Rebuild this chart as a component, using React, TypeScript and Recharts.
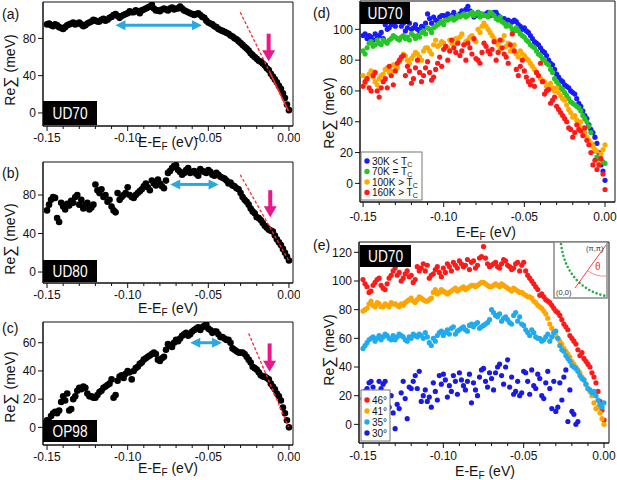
import React from 'react';
import { ScatterChart, Scatter, XAxis, YAxis, ReferenceLine, ReferenceArea } from 'recharts';

// ---------------------------------------------------------------------------
// Data: Re Sigma (meV), on two interleaved energy grids
// ---------------------------------------------------------------------------

const ENERGY = [
  -0.15, -0.1475, -0.145, -0.1425, -0.14, -0.1375, -0.135, -0.1325, -0.13, -0.1275,
  -0.125, -0.1225, -0.12, -0.1175, -0.115, -0.1125, -0.11, -0.1075, -0.105, -0.1025,
  -0.1, -0.0975, -0.095, -0.0925, -0.09, -0.0875, -0.085, -0.0825, -0.08, -0.0775,
  -0.075, -0.0725, -0.07, -0.0675, -0.065, -0.0625, -0.06, -0.0575, -0.055, -0.0525,
  -0.05, -0.0475, -0.045, -0.0425, -0.04, -0.0375, -0.035, -0.0325, -0.03, -0.0275,
  -0.025, -0.0225, -0.02, -0.0175, -0.015, -0.0125, -0.01, -0.0075, -0.005, -0.0025, 0,
];

const ENERGY_MID = [
  -0.14875, -0.14625, -0.14375, -0.14125, -0.13875, -0.13625, -0.13375, -0.13125, -0.12875, -0.12625,
  -0.12375, -0.12125, -0.11875, -0.11625, -0.11375, -0.11125, -0.10875, -0.10625, -0.10375, -0.10125,
  -0.09875, -0.09625, -0.09375, -0.09125, -0.08875, -0.08625, -0.08375, -0.08125, -0.07875, -0.07625,
  -0.07375, -0.07125, -0.06875, -0.06625, -0.06375, -0.06125, -0.05875, -0.05625, -0.05375, -0.05125,
  -0.04875, -0.04625, -0.04375, -0.04125, -0.03875, -0.03625, -0.03375, -0.03125, -0.02875, -0.02625,
  -0.02375, -0.02125, -0.01875, -0.01625, -0.01375, -0.01125, -0.00875, -0.00625, -0.00375, -0.00125,
];

const X_TICKS = [
  -0.15, -0.14, -0.13, -0.12, -0.11, -0.1, -0.09, -0.08, -0.07, -0.06, -0.05, -0.04, -0.03, -0.02, -0.01, 0,
];

// (a) UD70
const UD70_A = [
  95, 94, 95, 92, 90, 94, 96, 95, 97, 93,
  96, 98, 99, 98, 101, 100, 103, 106, 102, 105,
  107, 108, 110, 107, 111, 113, 116, 110, 109, 112,
  110, 113, 112, 114, 110, 108, 106, 106, 105, 102,
  97, 95, 92, 89, 87, 85, 82, 79, 75, 71,
  67, 62, 58, 55, 51, 46, 39, 33, 26, 16, 3,
];
const UD70_A_MID = [
  96, 93, 94, 91, 92, 95, 97, 96, 95, 94,
  97, 100, 98, 100, 99, 102, 105, 104, 104, 106,
  109, 108, 109, 110, 112, 114, 112, 110, 111, 111,
  112, 111, 112, 112, 109, 107, 105, 107, 103, 99,
  96, 93, 90, 88, 86, 83, 80, 77, 73, 69,
  64, 60, 56, 53, 48, 42, 36, 29, 21, 9,
];

// (b) UD80
const UD80_B = [
  64, 75, 77, 52, 68, 71, 74, 78, 70, 66,
  72, 67, 91, 82, 78, 73, 68, 62, 75, 80,
  88, 78, 80, 84, 89, 88, 95, 90, 92, 87,
  103, 108, 111, 104, 103, 108, 104, 102, 107, 104,
  106, 101, 103, 99, 97, 92, 90, 87, 82, 75,
  70, 63, 57, 54, 48, 44, 42, 34, 28, 20, 12,
];
const UD80_B_MID = [
  70, 78, 56, 72, 65, 69, 72, 80, 75, 70,
  65, 70, 85, 86, 80, 75, 64, 82, 78, 82,
  80, 77, 82, 86, 92, 85, 92, 96, 89, 95,
  105, 110, 106, 101, 106, 103, 105, 100, 105, 103,
  104, 100, 101, 98, 95, 93, 89, 86, 78, 73,
  66, 61, 56, 51, 46, 43, 38, 31, 24, 16,
];

// (c) OP98
const OP98_C = [
  5, 8, 11, 12, 22, 24, 13, 22, 28, 29,
  24, 22, 21, 25, 28, 30, 34, 23, 36, 35,
  40, 34, 42, 45, 48, 50, 52, 52, 47, 50,
  59, 57, 62, 63, 66, 65, 68, 70, 69, 72,
  70, 67, 68, 64, 63, 62, 56, 54, 53, 52,
  48, 43, 41, 37, 36, 34, 29, 24, 19, 10, 0,
];
const OP98_C_MID = [
  4, 10, 10, 18, 19, 12, 20, 26, 27, 28,
  22, 21, 23, 26, 29, 31, 21, 33, 37, 38,
  39, 40, 43, 46, 49, 51, 53, 48, 49, 55,
  58, 60, 61, 65, 67, 66, 69, 71, 71, 73,
  69, 68, 66, 64, 62, 60, 55, 53, 53, 50,
  46, 42, 39, 36, 35, 31, 27, 22, 14, 5,
];

// (d) UD70, temperature series
const D_30K = [
  96, 94, 95, 97, 96, 94, 100, 103, 102, 106,
  104, 101, 100, 103, 99, 101, 110, 104, 106, 108,
  109, 110, 109, 108, 110, 111, 115, 111, 109, 110,
  109, 111, 110, 111, 108, 107, 106, 105, 105, 102,
  101, 98, 94, 91, 88, 85, 80, 77, 71, 67,
  64, 62, 59, 55, 50, 44, 38, 33, 26, 12, 2,
];
const D_30K_MID = [
  97, 96, 93, 95, 98, 103, 101, 104, 105, 102,
  99, 104, 101, 100, 102, 104, 107, 108, 105, 109,
  108, 107, 111, 109, 112, 113, 112, 108, 111, 109,
  110, 109, 111, 109, 106, 105, 104, 106, 103, 100,
  99, 96, 92, 90, 86, 83, 78, 74, 69, 66,
  63, 60, 58, 52, 47, 42, 35, 30, 20, 8,
];
const D_70K = [
  86, 88, 92, 90, 91, 93, 91, 94, 95, 93,
  96, 95, 97, 94, 95, 99, 101, 98, 102, 104,
  103, 106, 108, 107, 108, 110, 109, 111, 110, 108,
  109, 108, 110, 107, 108, 104, 103, 100, 101, 97,
  95, 92, 89, 86, 83, 80, 77, 72, 66, 62,
  59, 55, 52, 50, 47, 42, 37, 25, 17, 15, 13,
];
const D_70K_MID = [
  84, 91, 89, 93, 90, 92, 93, 96, 94, 95,
  94, 93, 96, 96, 98, 97, 100, 101, 103, 105,
  106, 107, 106, 109, 109, 108, 110, 109, 111, 110,
  109, 111, 109, 106, 105, 102, 102, 99, 99, 96,
  93, 90, 88, 84, 81, 78, 74, 68, 64, 61,
  57, 53, 51, 49, 44, 40, 33, 21, 16, 14,
];
const D_100K = [
  70, 68, 73, 66, 68, 71, 75, 73, 76, 79,
  84, 80, 81, 85, 82, 86, 88, 84, 93, 90,
  91, 88, 91, 94, 95, 90, 93, 96, 92, 98,
  104, 100, 96, 92, 87, 96, 91, 88, 84, 86,
  83, 80, 76, 72, 68, 66, 64, 62, 62, 57,
  54, 48, 43, 41, 40, 33, 28, 24, 21, 19, 25,
];
const D_100K_MID = [
  65, 71, 69, 64, 70, 74, 72, 77, 75, 81,
  83, 78, 83, 84, 80, 88, 86, 90, 89, 92,
  89, 93, 90, 92, 97, 92, 95, 93, 100, 102,
  102, 98, 94, 90, 93, 89, 86, 90, 82, 84,
  81, 78, 74, 70, 67, 63, 65, 60, 59, 55,
  51, 46, 44, 38, 36, 30, 26, 22, 13, 22,
];
const D_160K = [
  63, 68, 60, 72, 56, 66, 62, 70, 73, 80,
  83, 76, 65, 75, 72, 70, 79, 67, 74, 82,
  87, 80, 93, 85, 83, 90, 91, 84, 81, 78,
  91, 86, 87, 80, 93, 84, 78, 97, 74, 76,
  73, 66, 67, 72, 78, 58, 61, 54, 50, 46,
  42, 36, 30, 38, 34, 36, 25, 12, 9, 16, -4,
];
const D_160K_MID = [
  66, 62, 70, 60, 62, 68, 76, 64, 78, 82,
  70, 73, 68, 80, 66, 75, 72, 69, 78, 76,
  89, 86, 88, 91, 86, 80, 88, 94, 80, 85,
  89, 84, 92, 85, 88, 82, 90, 86, 70, 80,
  69, 64, 63, 70, 66, 60, 52, 56, 48, 44,
  40, 35, 33, 35, 31, 28, 20, 15, 12, 6,
];

// (e) UD70, Fermi-surface angle series
const E_46 = [
  101, 96, 93, 99, 102, 95, 98, 104, 109, 106,
  102, 107, 104, 101, 107, 112, 111, 104, 108, 106,
  109, 112, 107, 111, 114, 110, 115, 113, 109, 116,
  124, 112, 111, 113, 109, 115, 111, 108, 112, 107,
  113, 104, 100, 96, 90, 89, 86, 83, 79, 76,
  70, 66, 60, 56, 48, 46, 42, 36, 29, 16, 3,
];
const E_46_MID = [
  98, 92, 97, 101, 97, 94, 102, 107, 104, 100,
  105, 103, 99, 110, 109, 107, 102, 105, 110, 103,
  106, 110, 113, 109, 112, 111, 108, 114, 111, 117,
  116, 110, 112, 110, 112, 114, 110, 109, 113, 111,
  107, 102, 98, 94, 91, 87, 85, 81, 78, 73,
  68, 62, 58, 52, 50, 44, 40, 33, 23, 10,
];
const E_41 = [
  79, 81, 86, 82, 84, 82, 83, 85, 84, 82,
  83, 86, 88, 85, 89, 87, 86, 88, 94, 92,
  93, 91, 93, 95, 94, 96, 95, 97, 96, 98,
  99, 97, 96, 98, 96, 97, 95, 93, 94, 92,
  91, 89, 88, 85, 82, 79, 74, 67, 62, 58,
  53, 49, 44, 40, 36, 31, 25, 20, 11, 8, 0,
];
const E_41_MID = [
  80, 84, 83, 85, 82, 84, 82, 84, 83, 84,
  85, 87, 86, 87, 88, 86, 87, 92, 91, 94,
  92, 92, 94, 93, 95, 94, 96, 97, 97, 99,
  98, 96, 97, 97, 98, 96, 94, 95, 93, 92,
  90, 89, 86, 83, 81, 77, 70, 64, 60, 56,
  51, 47, 42, 38, 33, 28, 23, 15, 12, 4,
];
const E_35 = [
  53, 57, 60, 58, 62, 61, 62, 59, 59, 63,
  61, 58, 60, 62, 63, 60, 61, 55, 58, 64,
  62, 66, 67, 63, 66, 68, 65, 70, 70, 67,
  69, 71, 80, 76, 77, 74, 73, 70, 78, 75,
  69, 64, 66, 61, 60, 59, 63, 61, 65, 55,
  51, 46, 41, 39, 34, 31, 25, 22, 20, 14, 15,
];
const E_35_MID = [
  55, 59, 61, 60, 59, 63, 60, 62, 61, 62,
  59, 61, 63, 61, 62, 64, 57, 60, 62, 65,
  64, 63, 68, 65, 67, 66, 69, 68, 71, 68,
  70, 73, 78, 75, 72, 75, 71, 76, 72, 70,
  66, 62, 64, 60, 58, 61, 58, 64, 60, 52,
  48, 44, 40, 37, 32, 28, 24, 23, 17, 12,
];
// 30 deg cut stops at about -0.016 eV
const E_30 = [
  18, 25, 30, 22, 30, 28, 15, 20, -3, 11,
  30, 4, 25, 34, 37, 20, 16, 12, 23, 34,
  35, 19, 23, 30, 36, 27, 30, 15, 24, 33,
  39, 26, 32, 36, 42, 28, 45, 33, 23, 20,
  37, 30, 38, 25, 32, 18, 37, 11, 9, 29,
  33, 2, 9, 0,
];
const E_30_MID = [
  23, 29, 26, 17, 25, 30, 12, 8, 14, 22,
  18, 26, 30, 25, 16, 24, 19, 29, 17, 28,
  31, 27, 34, 21, 31, 24, 35, 29, 20, 38,
  30, 36, 24, 40, 34, 40, 26, 21, 30, 22,
  36, 21, 27, 35, 20, 29, 25, 30, 12, 17,
  38, 24, 7, 2,
];

// ---------------------------------------------------------------------------
// Styles
// ---------------------------------------------------------------------------

const FONT = '"Liberation Sans", Arial, Helvetica, sans-serif';
const INK = '#111';
const CYAN = '#2aa8e0';
const MAGENTA = '#e8178a';
const RED_LINE = '#ff2a2a';

const D_COLORS = ['#1a1aff', '#27c427', '#ffaa00', '#ff1a1a'];
const D_LABELS = ['30K < T', '70K = T', '100K > T', '160K > T'];
const E_COLORS = ['#ff1a1a', '#ffa500', '#20aaf0', '#1a1ae6'];
const E_LABELS = ['46°', '41°', '35°', '30°'];

type Box = { left: number; top: number; width: number; height: number };
type Plot = { x0: number; x1: number; y0: number; y1: number };
type Series = { x: number[]; y: number[]; color: string; r: number };
type Pt = { x: number; y: number };
type Fit = { from: Pt; to: Pt; dashed: boolean };

const toPoints = (x: number[], y: number[]) => y.map((v, i) => ({ x: x[i], y: v }));

// both grids of one curve as a single series
const both = (main: number[], mid: number[]) => ({
  x: [...ENERGY.slice(0, main.length), ...ENERGY_MID.slice(0, mid.length)],
  y: [...main, ...mid],
});

// ---------------------------------------------------------------------------
// Small drawing helpers
// ---------------------------------------------------------------------------

const XTick = ({ x, y, payload, dy }: any) => {
  const v = payload.value as number;
  const major = Math.round(v * 100) % 5 === 0;
  return (
    <g>
      <line x1={x} x2={x} y1={y} y2={y + (major ? 5 : 3)} stroke={INK} />
      {major && (
        <text x={x} y={y + dy} textAnchor="middle" fontSize={12} fill={INK} fontFamily={FONT}>
          {v.toFixed(2)}
        </text>
      )}
    </g>
  );
};

const DoubleArrow = ({ x1, y1, x2 }: any) => {
  const h = 10;
  const w = 5;
  return (
    <g>
      <line x1={x1 + h - 1} y1={y1} x2={x2 - h + 1} y2={y1} stroke={CYAN} strokeWidth={3} />
      <polygon points={`${x1},${y1} ${x1 + h},${y1 - w} ${x1 + h},${y1 + w}`} fill={CYAN} />
      <polygon points={`${x2},${y1} ${x2 - h},${y1 - w} ${x2 - h},${y1 + w}`} fill={CYAN} />
    </g>
  );
};

const DownArrow = ({ x1, y1, y2 }: any) => {
  const h = 11;
  const w = 6.5;
  return (
    <g>
      <line x1={x1} y1={y1} x2={x1} y2={y2 - h + 1} stroke={MAGENTA} strokeWidth={4} />
      <polygon points={`${x1},${y2} ${x1 - w},${y2 - h} ${x1 + w},${y2 - h}`} fill={MAGENTA} />
    </g>
  );
};

const NoDot = () => <g />;

interface PanelProps {
  box: Box;
  plot: Plot;
  xDomain: [number, number];
  yDomain: [number, number];
  yTicks: number[];
  tickDy: number;
  series: Series[];
  fits?: Fit[];
  children?: React.ReactNode;
}

const Panel: React.FC<PanelProps> = ({ box, plot, xDomain, yDomain, yTicks, tickDy, series, fits = [], children }) => (
  <div style={{ position: 'absolute', left: box.left, top: box.top }}>
    <ScatterChart
      width={box.width}
      height={box.height}
      margin={{ top: plot.y0 - box.top, right: box.left + box.width - plot.x1, bottom: 0, left: 0 }}
    >
      <XAxis
        type="number"
        dataKey="x"
        domain={xDomain}
        allowDataOverflow
        ticks={X_TICKS}
        interval={0}
        height={box.top + box.height - plot.y1}
        tickSize={0}
        tickMargin={0}
        tickLine={false}
        axisLine={{ stroke: INK }}
        tick={(p: any) => <XTick {...p} dy={tickDy} />}
      />
      <YAxis
        type="number"
        dataKey="y"
        domain={yDomain}
        allowDataOverflow
        ticks={yTicks}
        interval={0}
        width={plot.x0 - box.left}
        tickSize={5}
        tickMargin={2}
        axisLine={{ stroke: INK }}
        tickLine={{ stroke: INK }}
        tick={{ fontSize: 12, fill: INK, fontFamily: FONT }}
      />
      <ReferenceArea
        x1={xDomain[0]}
        x2={xDomain[1]}
        y1={yDomain[0]}
        y2={yDomain[1]}
        fill="none"
        stroke={INK}
        strokeWidth={1}
        ifOverflow="visible"
      />
      {children}
      {series.map((s, i) => (
        <Scatter
          key={i}
          data={toPoints(s.x, s.y)}
          isAnimationActive={false}
          shape={(p: any) => <circle cx={p.cx} cy={p.cy} r={s.r} fill={s.color} />}
        />
      ))}
      {/* linear fits near E_F, drawn over the dots */}
      {fits.map((f, i) => (
        <Scatter
          key={`fit-${i}`}
          data={[f.from, f.to]}
          isAnimationActive={false}
          fill={RED_LINE}
          shape={NoDot}
          line={{
            stroke: RED_LINE,
            strokeWidth: f.dashed ? 1.3 : 1.6,
            strokeDasharray: f.dashed ? '3 2' : undefined,
          }}
        />
      ))}
    </ScatterChart>
  </div>
);

// ---------------------------------------------------------------------------
// Text, tags, legends and the Fermi-surface inset
// ---------------------------------------------------------------------------

const XTitle = ({ cx, y }: { cx: number; y: number }) => (
  <text x={cx} y={y} textAnchor="middle" fontSize={14} fill={INK} fontFamily={FONT}>
    E-E<tspan dy={3} fontSize={10}>F</tspan>
    <tspan dy={-3}> (eV)</tspan>
  </text>
);

const YTitle = ({ x, cy }: { x: number; cy: number }) => (
  <text
    x={x}
    y={cy}
    dy="0.35em"
    textAnchor="middle"
    fontSize={14}
    fill={INK}
    fontFamily={FONT}
    transform={`rotate(-90 ${x} ${cy})`}
  >
    Re<tspan fontSize={16}>∑</tspan> (meV)
  </text>
);

const Tag = ({ x, y, w, h, label }: { x: number; y: number; w: number; h: number; label: string }) => (
  <g>
    <rect x={x} y={y} width={w} height={h} fill="#000" />
    <text
      x={x + w / 2}
      y={y + h / 2 + 6}
      textAnchor="middle"
      fontSize={17}
      fill="#fff"
      fontFamily={FONT}
      textLength={35}
      lengthAdjust="spacingAndGlyphs"
    >
      {label}
    </text>
  </g>
);

const Letter = ({ x, y, t }: { x: number; y: number; t: string }) => (
  <text x={x} y={y} fontSize={14} fill={INK} fontFamily={FONT}>
    {t}
  </text>
);

const Annotations = () => (
  <svg
    width={617}
    height={480}
    style={{ position: 'absolute', left: 0, top: 0, pointerEvents: 'none' }}
  >
    <Letter x={2} y={19} t="(a)" />
    <Letter x={2} y={178} t="(b)" />
    <Letter x={2} y={333} t="(c)" />
    <Letter x={313} y={18} t="(d)" />
    <Letter x={313} y={250} t="(e)" />

    <YTitle x={10} cy={70} />
    <YTitle x={10} cy={239} />
    <YTitle x={10} cy={387} />
    <YTitle x={329} cy={113} />
    <YTitle x={329} cy={350} />

    <XTitle cx={168} y={147} />
    <XTitle cx={168} y={313} />
    <XTitle cx={168} y={473} />
    <XTitle cx={486} y={237} />
    <XTitle cx={485} y={476} />

    <Tag x={43} y={101} w={54} h={24} label="UD70" />
    <Tag x={43} y={260} w={54} h={22} label="UD80" />
    <Tag x={43} y={420} w={54} h={22} label="OP98" />
    <Tag x={360} y={2} w={50} h={22} label="UD70" />
    <Tag x={360} y={245} w={51} h={22} label="UD70" />

    {/* legend (d) */}
    <rect x={361} y={152} width={61} height={48} fill="#fff" stroke="#777" />
    {D_LABELS.map((t, i) => (
      <g key={t}>
        <circle cx={367} cy={161 + i * 10.5} r={2.7} fill={D_COLORS[i]} />
        <text x={372} y={164.5 + i * 10.5} fontSize={10} fill={INK} fontFamily={FONT}>
          {t}
          <tspan dy={2} fontSize={7}>C</tspan>
        </text>
      </g>
    ))}

    {/* legend (e) */}
    <rect x={361} y={390} width={29} height={51} fill="#fff" stroke="#777" />
    {E_LABELS.map((t, i) => (
      <g key={t}>
        <circle cx={367} cy={400 + i * 11} r={2.7} fill={E_COLORS[i]} />
        <text x={372} y={403.5 + i * 11} fontSize={10} fill={INK} fontFamily={FONT}>
          {t}
        </text>
      </g>
    ))}

    {/* Fermi-surface inset (e) */}
    <rect x={554} y={242} width={53} height={56} fill="#fff" stroke="#888" strokeWidth={1.5} />
    <path
      d="M 561 244 C 565 276, 585 292, 606 296"
      fill="none"
      stroke="#2aa84a"
      strokeWidth={2.6}
      strokeDasharray="0 4"
      strokeLinecap="round"
    />
    <line x1={575} y1={288} x2={606} y2={245} stroke="#ff3b3b" strokeWidth={1} />
    <path d="M 588 271 Q 597 277 606 276" fill="none" stroke="#ff8a8a" strokeWidth={1} />
    <text x={595} y={270} fontSize={10} fill="#ff3030" fontFamily={FONT}>
      θ
    </text>
    <text x={586} y={251} fontSize={7.5} fill="#333" fontFamily={FONT}>
      (π,π)
    </text>
    <text x={556} y={295} fontSize={7.5} fill="#333" fontFamily={FONT}>
      (0,0)
    </text>
  </svg>
);

// ---------------------------------------------------------------------------
// App
// ---------------------------------------------------------------------------

const E_AXIS: [number, number] = [-0.1525, 0.0025];

const App = () => (
  <div style={{ position: 'absolute', left: 0, top: 0, width: 617, height: 480, background: '#fff' }}>
    <Panel
      box={{ left: 0, top: 0, width: 300, height: 155 }}
      plot={{ x0: 43, x1: 293, y0: 2, y1: 126 }}
      xDomain={E_AXIS}
      yDomain={[-14, 119]}
      yTicks={[0, 40, 80]}
      tickDy={15.5}
      series={[{ ...both(UD70_A, UD70_A_MID), color: '#000', r: 3.3 }]}
      fits={[
        { from: { x: -0.0302, y: 108 }, to: { x: -0.012, y: 44 }, dashed: true },
        { from: { x: -0.012, y: 44 }, to: { x: -0.0003, y: 2 }, dashed: false },
      ]}
    >
      <ReferenceLine segment={[{ x: -0.1076, y: 94 }, { x: -0.0539, y: 94 }]} shape={(p: any) => <DoubleArrow {...p} />} ifOverflow="visible" />
      <ReferenceLine segment={[{ x: -0.0126, y: 85 }, { x: -0.0126, y: 55.5 }]} shape={(p: any) => <DownArrow {...p} />} ifOverflow="visible" />
    </Panel>

    <Panel
      box={{ left: 0, top: 155, width: 300, height: 160 }}
      plot={{ x0: 43, x1: 293, y0: 162, y1: 283 }}
      xDomain={E_AXIS}
      yDomain={[-11.4, 114.3]}
      yTicks={[0, 40, 80]}
      tickDy={16}
      series={[{ ...both(UD80_B, UD80_B_MID), color: '#000', r: 3.3 }]}
      fits={[{ from: { x: -0.0302, y: 101 }, to: { x: -0.0002, y: 12 }, dashed: true }]}
    >
      <ReferenceLine segment={[{ x: -0.0736, y: 91 }, { x: -0.0436, y: 91 }]} shape={(p: any) => <DoubleArrow {...p} />} ifOverflow="visible" />
      <ReferenceLine segment={[{ x: -0.0116, y: 85 }, { x: -0.0116, y: 57 }]} shape={(p: any) => <DownArrow {...p} />} ifOverflow="visible" />
    </Panel>

    <Panel
      box={{ left: 0, top: 315, width: 300, height: 165 }}
      plot={{ x0: 43, x1: 293, y0: 322, y1: 445 }}
      xDomain={E_AXIS}
      yDomain={[-12.5, 74.7]}
      yTicks={[0, 20, 40, 60]}
      tickDy={16}
      series={[{ ...both(OP98_C, OP98_C_MID), color: '#000', r: 3.3 }]}
      fits={[{ from: { x: -0.025, y: 66.6 }, to: { x: -0.0002, y: 0 }, dashed: true }]}
    >
      <ReferenceLine segment={[{ x: -0.0612, y: 60 }, { x: -0.0415, y: 60 }]} shape={(p: any) => <DoubleArrow {...p} />} ifOverflow="visible" />
      <ReferenceLine segment={[{ x: -0.012, y: 59.5 }, { x: -0.012, y: 39.5 }]} shape={(p: any) => <DownArrow {...p} />} ifOverflow="visible" />
    </Panel>

    <Panel
      box={{ left: 305, top: 0, width: 312, height: 240 }}
      plot={{ x0: 360, x1: 615, y0: 1, y1: 202 }}
      xDomain={[-0.1519, 0.0062]}
      yDomain={[-12.1, 118.4]}
      yTicks={[0, 20, 40, 60, 80, 100]}
      tickDy={19}
      series={[
        { ...both(D_30K, D_30K_MID), color: D_COLORS[0], r: 2.6 },
        { ...both(D_70K, D_70K_MID), color: D_COLORS[1], r: 2.6 },
        { ...both(D_100K, D_100K_MID), color: D_COLORS[2], r: 2.6 },
        { ...both(D_160K, D_160K_MID), color: D_COLORS[3], r: 2.6 },
      ]}
    />

    <Panel
      box={{ left: 305, top: 240, width: 312, height: 240 }}
      plot={{ x0: 359, x1: 609, y0: 242, y1: 443 }}
      xDomain={[-0.1525, 0.0031]}
      yDomain={[-13, 127.2]}
      yTicks={[0, 20, 40, 60, 80, 100, 120]}
      tickDy={17}
      series={[
        { ...both(E_46, E_46_MID), color: E_COLORS[0], r: 2.6 },
        { ...both(E_41, E_41_MID), color: E_COLORS[1], r: 2.6 },
        { ...both(E_35, E_35_MID), color: E_COLORS[2], r: 2.6 },
        { ...both(E_30, E_30_MID), color: E_COLORS[3], r: 2.6 },
      ]}
    />

    <Annotations />
  </div>
);

export default App;
